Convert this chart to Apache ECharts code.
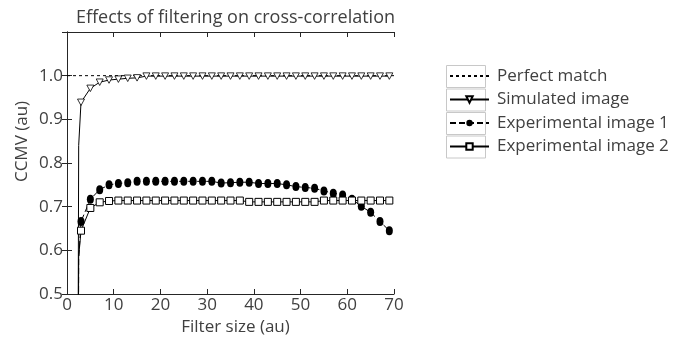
<!DOCTYPE html>
<html>
<head>
<meta charset="utf-8">
<script src="https://cdn.jsdelivr.net/npm/echarts@6/dist/echarts.min.js"></script>
<style>html,body{margin:0;padding:0;background:#fff;}#chart{width:686px;height:345px;}</style>
</head>
<body>
<div id="chart"></div>
<script>
// ---- data ----
const filterSize = [3,5,7,9,11,13,15,17,19,21,23,25,27,29,31,33,35,37,39,41,43,45,47,49,51,53,55,57,59,61,63,65,67,69];
const simulated = [0.939,0.971,0.985,0.990,0.992,0.994,0.995,0.999,0.999,0.999,0.999,0.999,0.999,0.999,0.999,0.999,0.999,0.999,0.999,0.999,0.999,0.999,0.999,0.999,0.999,0.999,0.999,0.999,0.999,0.999,0.999,0.999,0.999,0.999];
const experimental1 = [0.666,0.717,0.739,0.750,0.753,0.755,0.758,0.758,0.758,0.758,0.758,0.758,0.758,0.758,0.758,0.754,0.755,0.756,0.756,0.753,0.753,0.753,0.750,0.746,0.744,0.742,0.736,0.731,0.727,0.717,0.701,0.687,0.666,0.645];
const experimental2 = [0.645,0.697,0.710,0.713,0.714,0.714,0.714,0.714,0.714,0.714,0.714,0.714,0.714,0.714,0.714,0.714,0.714,0.714,0.711,0.711,0.711,0.711,0.711,0.711,0.711,0.711,0.714,0.714,0.714,0.714,0.714,0.714,0.714,0.714];
// lead-in points (small filter sizes, drawn without markers)
const leadSize = [2, 2.5];
const simulatedLead = [-1, 0.84];
const experimental1Lead = [-1, 0.58];
const experimental2Lead = [-1, 0.585];
const perfectSize = [0, 70];
const perfectValue = [1, 1];
const xTicks = [0,10,20,30,40,50,60,70];
const yTicks = [0.5,0.6,0.7,0.8,0.9,1.0];
const seriesNames = ['Perfect match','Simulated image','Experimental image 1','Experimental image 2'];

function build(lead, leadVals, vals) {
  const out = lead.map((x, i) => ({value: [x, leadVals[i]], symbol: 'none'}));
  filterSize.forEach((x, i) => out.push([x, vals[i]]));
  return out;
}

const FONT = 'Open Sans';
const TXT = '#404040';
const AX = '#262626';
const chart = echarts.init(document.getElementById('chart'));

const axisCommon = {
  axisLine: {show: true, lineStyle: {color: AX, width: 1}},
  axisTick: {show: true, inside: true, length: 5, lineStyle: {color: AX}},
  splitLine: {show: false}
};

const legendRows = [74, 97.5, 121, 144.5];

chart.setOption({
  animation: false,
  title: {
    text: 'Effects of filtering on cross-correlation',
    left: 230.5, top: 4, textAlign: 'center',
    textStyle: {fontFamily: FONT, fontSize: 18, fontWeight: 'normal', color: TXT}
  },
  grid: {left: 67, right: 292, top: 32, bottom: 51},
  xAxis: [
    Object.assign({
      type: 'value', min: 0, max: 70, interval: 10, position: 'bottom',
      name: 'Filter size (au)', nameLocation: 'middle', nameGap: 21,
      nameTextStyle: {fontFamily: FONT, fontSize: 17, color: TXT, padding: [0, 0, 0, 10]},
      axisLabel: {fontFamily: FONT, fontSize: 17, color: TXT, margin: 3,
        formatter: v => xTicks.indexOf(v) >= 0 ? String(v) : ''}
    }, axisCommon),
    Object.assign({
      type: 'value', min: 0, max: 70, interval: 10, position: 'top',
      axisLabel: {show: false}
    }, axisCommon)
  ],
  yAxis: [
    Object.assign({
      type: 'value', min: 0.5, max: 1.1, interval: 0.1, position: 'left',
      name: 'CCMV (au)', nameLocation: 'middle', nameGap: 36,
      nameTextStyle: {fontFamily: FONT, fontSize: 17, color: TXT, padding: [0, 0, 0, 43]},
      axisLabel: {fontFamily: FONT, fontSize: 17, color: TXT, margin: 4,
        formatter: v => {
          const f = Number(v.toFixed(1));
          return yTicks.indexOf(f) >= 0 ? f.toFixed(1) : '';
        }}
    }, axisCommon),
    Object.assign({
      type: 'value', min: 0.5, max: 1.1, interval: 0.1, position: 'right',
      axisLabel: {show: false}
    }, axisCommon)
  ],
  legend: {
    orient: 'vertical', left: 444, top: 61,
    itemWidth: 39, itemHeight: 8, itemGap: 3.5,
    textStyle: {fontFamily: FONT, fontSize: 17, color: TXT, lineHeight: 20, padding: [0, 0, 0, 3]},
    data: [
      {name: seriesNames[0], itemStyle: {opacity: 0}},
      {name: seriesNames[1]},
      {name: seriesNames[2]},
      {name: seriesNames[3]}
    ]
  },
  graphic: legendRows.map(cy => ({
    type: 'rect', left: 444, top: cy - 11, z: -1, silent: true,
    shape: {width: 39, height: 22},
    style: {fill: 'none', stroke: '#c8c8c8', lineWidth: 1}
  })),
  series: [
    {
      name: seriesNames[0], type: 'line', symbol: 'none',
      data: perfectSize.map((x, i) => [x, perfectValue[i]]),
      lineStyle: {color: '#000', width: 1, type: [3, 3]},
      itemStyle: {color: '#000'}, z: 1
    },
    {
      name: seriesNames[1], type: 'line',
      symbol: 'path://M0,0 L10,0 L5,9 Z', symbolSize: [7, 6.5],
      data: build(leadSize, simulatedLead, simulated),
      lineStyle: {color: '#000', width: 1},
      itemStyle: {color: '#fff', borderColor: '#000', borderWidth: 0.8}, z: 3
    },
    {
      name: seriesNames[2], type: 'line',
      symbol: 'circle', symbolSize: [7, 9],
      data: build(leadSize, experimental1Lead, experimental1),
      lineStyle: {color: '#000', width: 1, type: [6, 3]},
      itemStyle: {color: '#000', borderColor: '#000', borderWidth: 0}, z: 4
    },
    {
      name: seriesNames[3], type: 'line',
      symbol: 'rect', symbolSize: 7,
      data: build(leadSize, experimental2Lead, experimental2),
      lineStyle: {color: '#000', width: 1},
      itemStyle: {color: '#fff', borderColor: '#000', borderWidth: 1}, z: 5
    }
  ]
});
</script>
</body>
</html>
